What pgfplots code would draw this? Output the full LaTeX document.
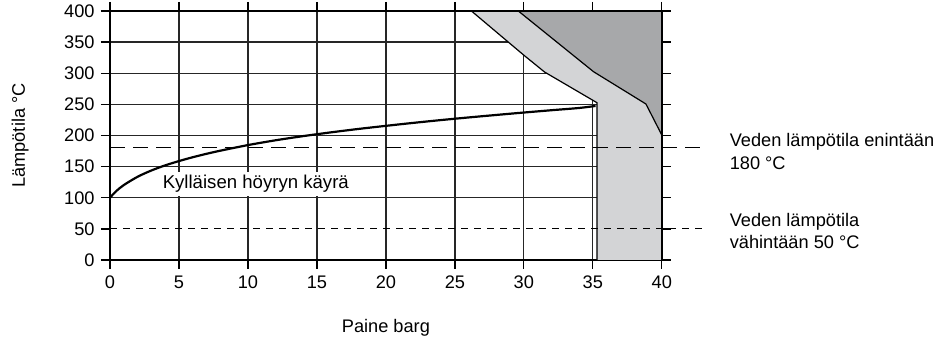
\documentclass[border=0pt]{standalone}
\usepackage{fontspec}
\setmainfont{Liberation Sans}
\usepackage{pgfplots}
\pgfplotsset{compat=1.18}
\definecolor{lightgr}{RGB}{211,212,214}
\definecolor{darkgr}{RGB}{167,168,170}
\begin{document}
\fontsize{9.1}{11.3}\selectfont
\begin{tikzpicture}
\path[use as bounding box] (0,0) rectangle (474.5pt,171pt);
\begin{axis}[
  at={(55pt,41pt)}, anchor=south west,
  scale only axis, width=275.9pt, height=124.5pt,
  xmin=0, xmax=40, ymin=0, ymax=400,
  xtick={0,5,...,40}, ytick={0,100,150,...,400},
  extra y ticks={50}, extra y tick style={grid=none},
  grid=major,
  major grid style={line width=0.65pt, color=black!85},
  axis line style={line width=1pt},
  tick style={line width=0.65pt, color=black},
  tick align=outside,
  major tick length=4.5pt,
  /pgf/number format/assume math mode=true,
  tick label style={font=\fontsize{9.1}{10}\selectfont},
  xticklabel style={text height=6.6pt, text depth=0pt},
  clip=false,
  xlabel={Paine barg},
  ylabel={Lämpötila °C},
  every axis x label/.style={at={(axis description cs:0.5,-0.273)}, anchor=center},
  every axis y label/.style={at={(axis description cs:-0.163,0.5)}, rotate=90, anchor=center},
]
% light grey region
\addplot[fill=lightgr, draw=none] coordinates {
  (26.2,400) (30,329) (31.5,302) (35.3,252.7) (35.3,0) (40,0) (40,400)} -- cycle;
\addplot[black, line width=0.6pt] coordinates {
  (26.2,400) (30,329) (31.5,302) (35.3,252.7) (35.3,0)};
% dark grey region
\addplot[fill=darkgr, draw=none] coordinates {
  (29.6,400) (35.05,302.5) (38.85,250.6) (40,200.8) (40,400)} -- cycle;
\addplot[black, line width=0.6pt] coordinates {
  (29.6,400) (35.05,302.5) (38.85,250.6) (40,200.8)};
% border right and top
\addplot[black, line width=1pt] coordinates {(0,400) (40,400) (40,0)};
% saturated steam curve
\addplot[black, line width=1.1pt, smooth] coordinates {
  (0,100) (0.2,105) (0.5,111.6) (1,120.4) (2,133.7) (3,143.8) (4,152.0)
  (5,158.9) (6,165.1) (7,170.6) (8,175.6) (10,184.6) (12,192.3) (14,199)
  (16,205) (18,210.5) (20,215.5) (22,220.3) (24,224.8) (26,229) (28,233)
  (30,236.9) (32,240.6) (34,244.2) (35.2,247.5)};
% water temperature lines
\addplot[black, line width=0.5pt, dash pattern=on 7.5pt off 4pt] coordinates {(0,180) (42.9,180)};
\addplot[black, line width=0.5pt, dash pattern=on 3.5pt off 3pt] coordinates {(0,50) (43,50)};
\node[fill=white, inner sep=1.5pt, font=\fontsize{9.3}{11}\selectfont] at (axis cs:10.57,122) {Kylläisen höyryn käyrä};
\node[anchor=west, align=left, inner sep=0pt, font=\fontsize{9.1}{11.3}\selectfont] at (axis cs:44.9,174) {Veden lämpötila enintään\\180 °C};
\node[anchor=west, align=left, inner sep=0pt, font=\fontsize{9.1}{11.3}\selectfont] at (axis cs:44.9,46.6) {Veden lämpötila\\vähintään 50 °C};
\end{axis}
\end{tikzpicture}
\end{document}
